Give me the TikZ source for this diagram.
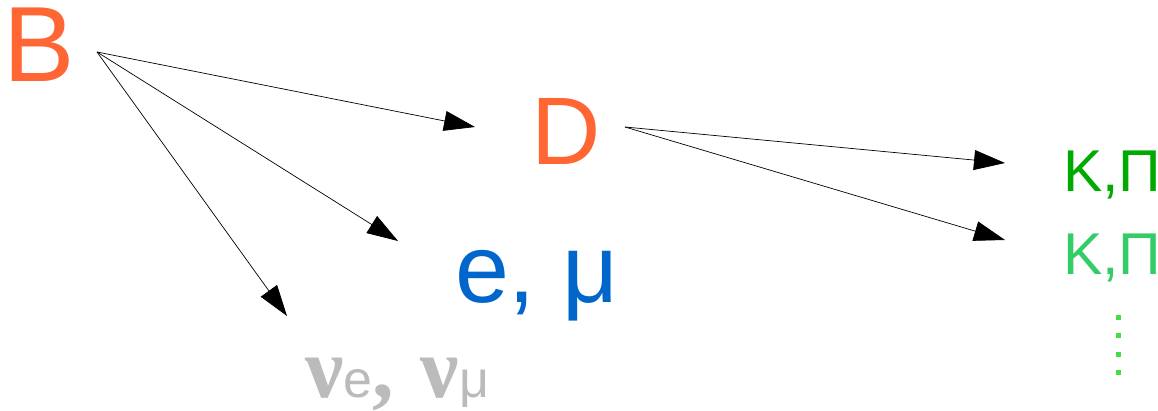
\documentclass[tikz,border=0pt]{standalone}
\usepackage{fontspec}
\setmainfont{Liberation Sans}
\newfontfamily\nuserif{Liberation Serif}
\usetikzlibrary{arrows.meta}
\definecolor{borange}{HTML}{FF6633}
\definecolor{lblue}{HTML}{0066CC}
\definecolor{nugray}{HTML}{BBBBBB}
\definecolor{kdark}{HTML}{00AA00}
\definecolor{klight}{HTML}{33CC66}
\definecolor{kdots}{HTML}{44DD44}
\newcommand{\nuglyph}[1]{{\nuserif\bfseries\fontsize{86}{86}\selectfont #1}}
\newcommand{\nusub}[1]{{\fontsize{52}{52}\selectfont #1}}
\tikzset{
  lbl/.style={anchor=base west, inner sep=0pt, outer sep=0pt},
  decay/.style={draw=black, line width=0.7pt, -{Triangle[length=31pt,width=20pt]}},
}
\begin{document}
\begin{tikzpicture}[x=1pt,y=-1pt]
\useasboundingbox (0,0) rectangle (1158,411);
% labels
\node[lbl, text=borange, font=\fontsize{107}{107}\selectfont] (B) at (4,82) {B};
\node[lbl, text=borange, font=\fontsize{96}{96}\selectfont] (D) at (531,165) {D};
\node[lbl, text=lblue, font=\fontsize{97}{97}\selectfont] (lep) at (455,302) {e, μ};
\node[lbl, text=nugray] (nu) at (305,397) {\nuglyph{ν}\nusub{e}\nuglyph{,}\hspace{27pt}\nuglyph{ν}\nusub{μ}};
\node[lbl, text=kdark, font=\fontsize{59}{59}\selectfont] (K1) at (1063,192) {K,Π};
\node[lbl, text=klight, font=\fontsize{59}{59}\selectfont] (K2) at (1063,275) {K,Π};
% dots
\foreach \yy in {317,335,354,372}
  \fill[kdots] (1116,\yy-2.5) rectangle ++(5,5);
% arrow anchors
\coordinate (Bs) at (97,52);
\coordinate (Ds) at (625,127);
\coordinate (toD) at (475,127);
\coordinate (toL) at (398,241);
\coordinate (toN) at (287,316);
\coordinate (toK1) at (1005,163);
\coordinate (toK2) at (1005,240);
\draw[decay] (Bs) -- (toD);
\draw[decay] (Bs) -- (toL);
\draw[decay] (Bs) -- (toN);
\draw[decay] (Ds) -- (toK1);
\draw[decay] (Ds) -- (toK2);
\end{tikzpicture}
\end{document}
